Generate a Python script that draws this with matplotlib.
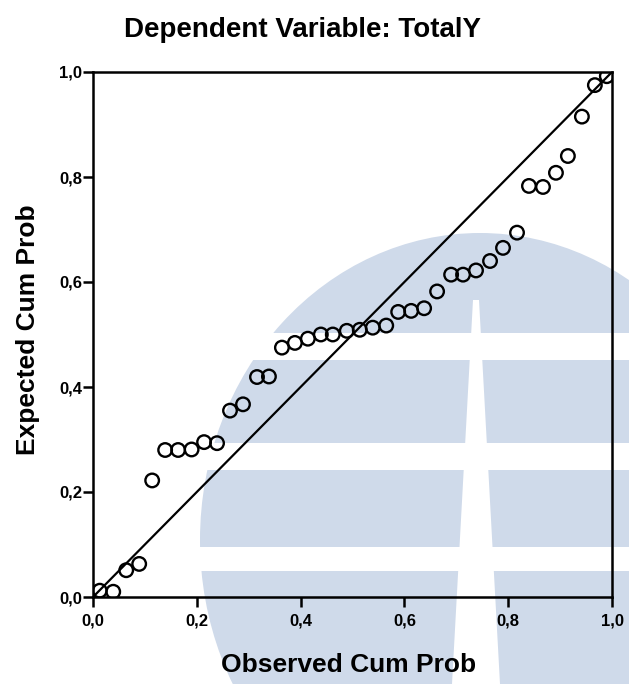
import matplotlib.pyplot as plt
from matplotlib.patches import Ellipse, Rectangle, Polygon

plt.rcParams['font.family'] = ['Liberation Sans', 'DejaVu Sans']

# normal P-P plot of regression standardized residual
observed = [0.013, 0.039, 0.064, 0.089, 0.114, 0.139, 0.164, 0.190, 0.214, 0.239,
            0.264, 0.289, 0.316, 0.339, 0.364, 0.389, 0.414, 0.439, 0.462, 0.489,
            0.514, 0.539, 0.565, 0.588, 0.613, 0.638, 0.663, 0.690, 0.713, 0.738,
            0.765, 0.790, 0.817, 0.840, 0.867, 0.892, 0.915, 0.942, 0.967, 0.990]
expected = [0.012, 0.010, 0.051, 0.063, 0.222, 0.280, 0.280, 0.281, 0.295, 0.293,
            0.355, 0.367, 0.419, 0.420, 0.475, 0.484, 0.492, 0.500, 0.500, 0.507,
            0.509, 0.513, 0.517, 0.543, 0.545, 0.550, 0.582, 0.614, 0.614, 0.622,
            0.640, 0.665, 0.694, 0.783, 0.781, 0.808, 0.840, 0.915, 0.975, 0.992]
ticks = [0.0, 0.2, 0.4, 0.6, 0.8, 1.0]
tick_labels = ['0,0', '0,2', '0,4', '0,6', '0,8', '1,0']

W, H = 629, 684
fig = plt.figure(figsize=(W / 100, H / 100), dpi=100)

# background logo in pixel coordinates
bg = fig.add_axes([0, 0, 1, 1], zorder=0)
bg.set_xlim(0, W)
bg.set_ylim(H, 0)
bg.axis('off')
blue = '#cfdaea'
bg.add_patch(Ellipse((480, 540), 560, 614, color=blue, lw=0))
for y0, y1 in [(333, 360), (443, 470), (547, 571)]:
    bg.add_patch(Rectangle((0, y0), W, y1 - y0, color='white', lw=0))
bg.add_patch(Polygon([(473, 300), (479, 300), (500, H), (452, H)], color='white', lw=0))

ax = fig.add_axes([93 / W, 1 - 597 / H, 519 / W, 525 / H], zorder=1)
ax.set_facecolor('none')

ax.plot([0, 1], [0, 1], color='black', lw=1.6, zorder=2)
ax.scatter(observed, expected, s=95, facecolors='none', edgecolors='black',
           linewidths=1.7, zorder=3)

ax.set_xlim(0, 1)
ax.set_ylim(0, 1)
ax.set_xticks(ticks)
ax.set_yticks(ticks)
ax.set_xticklabels(tick_labels, fontsize=12, fontweight='bold')
ax.set_yticklabels(tick_labels, fontsize=12, fontweight='bold')
ax.tick_params(direction='out', length=7, width=1.8)
ax.tick_params(axis='x', pad=5)
ax.tick_params(axis='y', pad=1)
for s in ax.spines.values():
    s.set_linewidth(1.8)

fig.text(349 / W, 1 - 665 / H, 'Observed Cum Prob', fontsize=19,
         fontweight='bold', ha='center', va='center')
fig.text(28 / W, 1 - 330 / H, 'Expected Cum Prob', fontsize=19,
         fontweight='bold', ha='center', va='center', rotation=90)
fig.text(303 / W, 1 - 30 / H, 'Dependent Variable: TotalY', fontsize=20,
         fontweight='bold', ha='center', va='center')

fig.savefig('out.png', dpi=100)
